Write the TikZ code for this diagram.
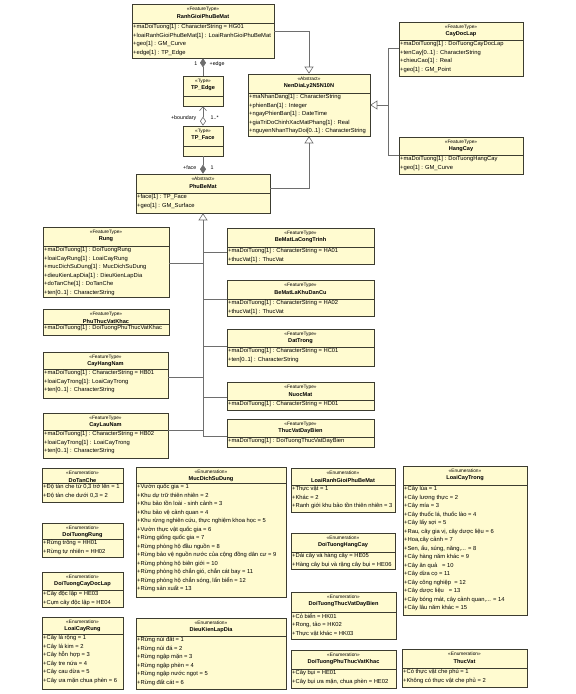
\documentclass[tikz,border=0pt]{standalone}
\usepackage{fontspec}
\setmainfont{Liberation Sans}
\usetikzlibrary{arrows.meta,fit}
\definecolor{boxfill}{HTML}{FFFBD0}
\definecolor{boxdraw}{HTML}{3C3C30}
\definecolor{conn}{HTML}{6E6E6E}
\tikzset{
 clsbox/.style={draw=boxdraw, fill=boxfill, line width=0.6pt, inner sep=0pt},
 sepline/.style={draw=boxdraw, line width=0.6pt},
 stereo/.style={font=\fontsize{4.8}{5}\selectfont, inner sep=0pt},
 cname/.style={font=\fontsize{5.6}{6}\selectfont\bfseries, inner sep=0pt},
 attrs/.style={font=\fontsize{5.8}{8.5}\selectfont, align=left, inner xsep=1pt, inner ysep=1.3pt, anchor=north west},
 conline/.style={draw=conn, line width=0.6pt},
 gen/.style={conline, -{Triangle[open, length=7pt, width=9pt]}},
 comp/.style={conline, {Diamond[length=9pt, width=6pt]}-},
 aggnav/.style={conline, {Diamond[open, length=9pt, width=6pt]}-{Straight Barb[length=4pt, width=7pt]}},
 lbl/.style={font=\fontsize{5.3}{6}\selectfont, inner sep=0.5pt},
}
\newcommand{\umlcls}[9]{%
 \node[clsbox, fit={(#2,#3) (#4,#5)}] (#1) {};
 \draw[sepline] (#2,#6) -- (#4,#6);
 \node[stereo] at ({(#2+#4)/2},{#3+5}) {«#7»};
 \node[cname] at ({(#2+#4)/2},{#3+12.3}) {#8};
 \node[attrs] at (#2,#6) {#9};
}
\begin{document}
\begin{tikzpicture}[x=1pt, y=-1pt]
\useasboundingbox (0,0) rectangle (576,694);
\fill[white] (0,0) rectangle (576,694);

% ---------- classes ----------
\umlcls{ranh}{132}{4}{274}{58}{23}{FeatureType}{RanhGioiPhuBeMat}{+maDoiTuong[1] : CharacterString = HG01\\+loaiRanhGioiPhuBeMat[1] : LoaiRanhGioiPhuBeMat\\+geo[1] : GM\_Curve\\+edge[1] : TP\_Edge}
\umlcls{nen}{248}{74}{370}{136}{93}{Abstract}{NenDiaLy2N5N10N}{+maNhanDang[1] : CharacterString\\+phienBan[1] : Integer\\+ngayPhienBan[1] : DateTime\\+giaTriDoChinhXacMatPhang[1] : Real\\+nguyenNhanThayDoi[0..1] : CharacterString}
\umlcls{cdl}{399}{22}{523}{76}{40}{FeatureType}{CayDocLap}{+maDoiTuong[1] : DoiTuongCayDocLap\\+tenCay[0..1] : CharacterString\\+chieuCao[1] : Real\\+geo[1] : GM\_Point}
\umlcls{hc}{399}{137}{523}{174}{155}{FeatureType}{HangCay}{+maDoiTuong[1] : DoiTuongHangCay\\+geo[1] : GM\_Curve}
\umlcls{tpe}{183}{76}{223}{106}{96}{Type}{TP\_Edge}{}
\umlcls{tpf}{183}{126}{223}{156}{146}{Type}{TP\_Face}{}
\umlcls{pbm}{136}{174}{270}{213}{193}{Abstract}{PhuBeMat}{+face[1] : TP\_Face\\+geo[1] : GM\_Surface}

\umlcls{rung}{43}{227}{169}{297}{246}{FeatureType}{Rung}{+maDoiTuong[1] : DoiTuongRung\\+loaiCayRung[1] : LoaiCayRung\\+mucDichSuDung[1] : MucDichSuDung\\+dieuKienLapDia[1] : DieuKienLapDia\\+doTanChe[1] : DoTanChe\\+ten[0..1] : CharacterString}
\umlcls{ptvk}{43}{309}{169}{335}{324}{FeatureType}{PhuThucVatKhac}{+maDoiTuong[1] : DoiTuongPhuThucVatKhac}
\umlcls{chn}{43}{352}{168}{398}{369}{FeatureType}{CayHangNam}{+maDoiTuong[1] : CharacterString = HB01\\+loaiCayTrong[1]: LoaiCayTrong\\+ten[0..1] : CharacterString}
\umlcls{cln}{43}{413}{168}{458}{430}{FeatureType}{CayLauNam}{+maDoiTuong[1] : CharacterString = HB02\\+loaiCayTrong[1] : LoaiCayTrong\\+ten[0..1] : CharacterString}

\umlcls{bmct}{227}{228}{374}{264}{247}{FeatureType}{BeMatLaCongTrinh}{+maDoiTuong[1] : CharacterString = HA01\\+thucVat[1] : ThucVat}
\umlcls{bmkdc}{227}{280}{374}{316}{299}{FeatureType}{BeMatLaKhuDanCu}{+maDoiTuong[1] : CharacterString = HA02\\+thucVat[1] : ThucVat}
\umlcls{dt}{227}{329}{374}{366}{347}{FeatureType}{DatTrong}{+maDoiTuong[1] : CharacterString = HC01\\+ten[0..1] : CharacterString}
\umlcls{nm}{227}{382}{374}{410}{400}{FeatureType}{NuocMat}{+maDoiTuong[1] : CharacterString = HD01}
\umlcls{tvdb}{227}{419}{374}{447}{437}{FeatureType}{ThucVatDayBien}{+maDoiTuong[1] : DoiTuongThucVatDayBien}

% ---------- enumerations ----------
\umlcls{dtc}{42}{468}{123}{502}{483}{Enumeration}{DoTanChe}{+Độ tàn che từ 0,3 trở lên = 1\\+Độ tàn che dưới 0,3 = 2}
\umlcls{dtr}{42}{523}{123}{557}{539}{Enumeration}{DoiTuongRung}{+Rừng trồng = HH01\\+Rừng tự nhiên = HH02}
\umlcls{dtcdl}{42}{572}{123}{607}{590}{Enumeration}{DoiTuongCayDocLap}{+Cây độc lập = HE03\\+Cụm cây độc lập = HE04}
\umlcls{lcr}{42}{617}{123}{689}{634}{Enumeration}{LoaiCayRung}{+Cây lá rộng = 1\\+Cây lá kim = 2\\+Cây hỗn hợp = 3\\+Cây tre nứa = 4\\+Cây cau dừa = 5\\+Cây ưa mặn chua phèn = 6}
\umlcls{mdsd}{136}{467}{286}{597}{483}{Enumeration}{MucDichSuDung}{+Vườn quốc gia = 1\\+Khu dự trữ thiên nhiên = 2\\+Khu bảo tồn loài - sinh cảnh = 3\\+Khu bảo vệ cảnh quan = 4\\+Khu rừng nghiên cứu, thực nghiệm khoa học = 5\\+Vườn thực vật quốc gia = 6\\+Rừng giống quốc gia = 7\\+Rừng phòng hộ đầu nguồn = 8\\+Rừng bảo vệ nguồn nước của cộng đồng dân cư = 9\\+Rừng phòng hộ biên giới = 10\\+Rừng phòng hộ chắn gió, chắn cát bay = 11\\+Rừng phòng hộ chắn sóng, lấn biển = 12\\+Rừng sản xuất = 13}
\umlcls{dkld}{136}{618}{286}{689}{636}{Enumeration}{DieuKienLapDia}{+Rừng núi đất = 1\\+Rừng núi đá = 2\\+Rừng ngập mặn = 3\\+Rừng ngập phèn = 4\\+Rừng ngập nước ngọt = 5\\+Rừng đất cát = 6}
\umlcls{lrg}{291}{468}{395}{512}{485}{Enumeration}{LoaiRanhGioiPhuBeMat}{+Thực vật = 1\\+Khác = 2\\+Ranh giới khu bảo tồn thiên nhiên = 3}
\umlcls{dthc}{291}{533}{395}{569}{552}{Enumeration}{DoiTuongHangCay}{+Dải cây và hàng cây = HE05\\+Hàng cây bụi và rặng cây bụi = HE06}
\umlcls{dttvdb}{291}{592}{396}{639}{612}{Enumeration}{DoiTuongThucVatDayBien}{+Cỏ biển = HK01\\+Rong, tảo = HK02\\+Thực vật khác = HK03}
\umlcls{dtptvk}{291}{650}{396}{688}{669}{Enumeration}{DoiTuongPhuThucVatKhac}{+Cây bụi = HE01\\+Cây bụi ưa mặn, chua phèn = HE02}
\umlcls{lct}{403}{466}{527}{615}{485}{Enumeration}{LoaiCayTrong}{+Cây lúa = 1\\+Cây lương thực = 2\\+Cây mía = 3\\+Cây thuốc lá, thuốc lào = 4\\+Cây lấy sợi = 5\\+Rau, cây gia vị, cây dược liệu = 6\\+Hoa,cây cảnh = 7\\+Sen, ấu, súng, năng,... = 8\\+Cây hàng năm khác = 9\\+Cây ăn quả \ \ = 10\\+Cây dừa cọ = 11\\+Cây công nghiệp \ = 12\\+Cây dược liệu \ \ = 13\\+Cây bóng mát, cây cảnh quan,... = 14\\+Cây lâu năm khác = 15}
\umlcls{tv}{402}{649}{527}{687}{668}{Enumeration}{ThucVat}{+Có thực vật che phủ = 1\\+Không có thực vật che phủ = 2}

% ---------- connectors ----------
\draw[gen] (ranh.east) -| (nen.north);
\coordinate (jn) at (388,105);
\draw[conline] (cdl.west |- 0,48) -| (jn);
\draw[conline] (hc.west |- 0,155) -| (jn);
\draw[gen] (jn) -- (nen.east |- jn);
\draw[gen] (pbm.east |- 0,188) -| (nen.south);

\draw[comp] (ranh.south) -- (tpe.north);
\node[lbl, anchor=east] at (198,64) {1};
\node[lbl, anchor=west] at (209,64) {+edge};
\draw[aggnav] (tpf.north) -- (tpe.south);
\node[lbl, anchor=east] at (197,118) {+boundary};
\node[lbl, anchor=west] at (210,118) {1..*};
\draw[comp] (pbm.north) -- (tpf.south);
\node[lbl, anchor=east] at (197,168) {+face};
\node[lbl, anchor=west] at (210,168) {1};

\coordinate (trunk) at (203,436);
\draw[gen] (trunk) -- (pbm.south);
\draw[conline] (rung.east |- 0,263) -- (trunk |- 0,263);
\draw[conline] (chn.east |- 0,377) -- (trunk |- 0,377);
\draw[conline] (cln.east |- 0,430) -- (trunk |- 0,430);
\draw[conline] (bmct.west |- 0,252) -- (trunk |- 0,252);
\draw[conline] (bmkdc.west |- 0,299) -- (trunk |- 0,299);
\draw[conline] (dt.west |- 0,346) -- (trunk |- 0,346);
\draw[conline] (nm.west |- 0,397) -- (trunk |- 0,397);
\draw[conline] (tvdb.west |- 0,436) -- (trunk);
\end{tikzpicture}
\end{document}
